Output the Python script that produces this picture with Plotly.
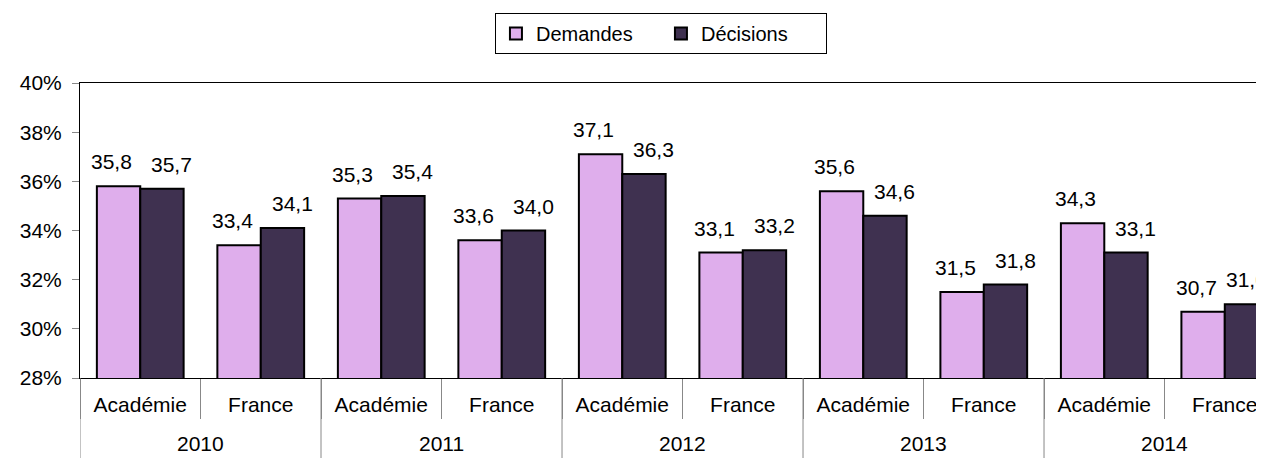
import plotly.graph_objects as go

years = ["2010", "2010", "2011", "2011", "2012", "2012", "2013", "2013", "2014", "2014"]
zones = ["Académie", "France"] * 5
demandes = [35.8, 33.4, 35.3, 33.6, 37.1, 33.1, 35.6, 31.5, 34.3, 30.7]
decisions = [35.7, 34.1, 35.4, 34.0, 36.3, 33.2, 34.6, 31.8, 33.1, 31.0]
y_ticks = [28, 30, 32, 34, 36, 38, 40]
y_tick_labels = ["28%", "30%", "32%", "34%", "36%", "38%", "40%"]

FONT = "Liberation Sans, Arial, sans-serif"
cats = [f"{y} {z}" for y, z in zip(years, zones)]
year_list = sorted(set(years))

fig = go.Figure()
fig.add_trace(go.Bar(
    x=cats, y=demandes, name="Demandes",
    marker=dict(color="#DFAEEC", line=dict(color="black", width=2)),
))
fig.add_trace(go.Bar(
    x=cats, y=decisions, name="Décisions",
    marker=dict(color="#3F3150", line=dict(color="black", width=2)),
))

# value labels above the bars, nudged apart like in the original
half = 21.7
for i, (c, a, b) in enumerate(zip(cats, demandes, decisions)):
    dec_shift = half + (10 if i < len(cats) - 1 else 0)
    for val, dx in ((a, -half - 7), (b, dec_shift)):
        fig.add_annotation(x=c, y=val, text=f"{val:.1f}".replace(".", ","),
                           showarrow=False, xshift=dx, yshift=11, yanchor="bottom",
                           font=dict(size=21, color="black"))

# year labels and year dividers under the category labels
for i, yr in enumerate(year_list):
    fig.add_annotation(x=2 * i + 0.5, y=-0.222, xref="x", yref="paper", text=yr,
                       showarrow=False, yanchor="middle", font=dict(size=21, color="black"))
    fig.add_shape(type="line", xref="x", yref="paper", x0=2 * i - 0.5, x1=2 * i - 0.5,
                  y0=0, y1=-0.28, line=dict(color="#888", width=1))

fig.update_layout(
    width=1248, height=450,
    margin=dict(l=72, r=0, t=75, b=80),
    plot_bgcolor="white", paper_bgcolor="white",
    font=dict(family=FONT, size=21, color="black"),
    barmode="group", bargap=0.28, bargroupgap=0,
    legend=dict(
        orientation="h", x=0.494, xanchor="center", y=1.237, yanchor="top",
        bordercolor="black", borderwidth=1, font=dict(size=20),
        itemwidth=30, entrywidth=120,
    ),
)
fig.update_xaxes(
    type="category", range=[-0.5, 9.259],
    tickvals=cats, ticktext=zones,
    showline=True, linecolor="black", linewidth=1, mirror=True,
    ticks="outside", tickson="boundaries", ticklen=40, tickcolor="#888",
    ticklabelstandoff=8,
    showgrid=False, tickfont=dict(size=21),
)
fig.update_yaxes(
    range=[28, 40], tickvals=y_ticks, ticktext=y_tick_labels,
    showline=True, linecolor="black", linewidth=1,
    ticks="outside", ticklen=7, tickcolor="#888", ticklabelstandoff=6,
    showgrid=False, zeroline=False, tickfont=dict(size=21),
)

fig.write_html("out.html")
